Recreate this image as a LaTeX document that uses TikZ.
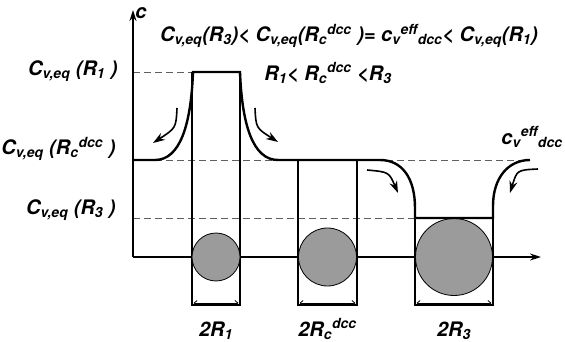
\documentclass[tikz,border=0pt]{standalone}
\usepackage{fontspec}
\setmainfont{TeX Gyre Heros}
\usetikzlibrary{arrows.meta}
\definecolor{dropgrey}{RGB}{155,155,155}
\definecolor{eqgrey}{RGB}{95,95,95}
\newcommand\sbs[1]{\textsubscript{#1}}
\newcommand\sps[1]{\textsuperscript{#1}}

\begin{document}
\begin{tikzpicture}[x=1pt,y=-1pt,
    font=\fontsize{20}{24}\selectfont\bfseries\itshape,
    profile/.style={line width=2.4pt},
    wall/.style={line width=1.6pt},
    eqline/.style={eqgrey,dash pattern=on 7pt off 4pt,line width=0.9pt},
    flow/.style={-{Stealth[length=12pt,width=8pt]},line width=1.6pt},
    dimarrow/.style={{Straight Barb[length=3pt,width=5pt]}-{Straight Barb[length=3pt,width=5pt]},line width=0.8pt}]
    \useasboundingbox (0,0) rectangle (565,342);

    % Equilibrium levels
    \draw[eqline] (133,72) -- (192,72);
    \draw[eqline] (133,160) -- (530,160);
    \draw[eqline] (133,218) -- (415,218);

    % Axes
    \draw[wall,-{Stealth[length=11pt,width=7pt]}] (133,257) -- (133,10);
    \draw[wall,-{Stealth[length=11pt,width=7pt]}] (133,257) -- (541,257);
    \node (caxis) at (141,13) {c};

    % Droplet boxes: left/right wall, top, centre, radius, label
    \foreach \l/\r/\t/\cx/\rad/\lab in {192/240/72/216/24/{2R\sbs{1}},
        298/357/160/327.5/29/{2R\sbs{c}\sps{dcc}},
        415/493/218/454/38.5/{2R\sbs{3}}}{
      \draw[wall] (\l,\t) -- (\l,305) -- (\r,305) -- (\r,\t);
      \fill[dropgrey] (\cx,257) circle (\rad);
      \draw[line width=0.8pt] (\cx,257) circle (\rad);
      \draw[dimarrow] (\l+1.5,303) -- (\r-1.5,303);
      \node[anchor=base,inner sep=0pt] at (\cx,336) {\lab};
    }

    % Concentration profile
    \draw[profile] (133,160) -- (155,160)
      .. controls (180,160) and (191,125) .. (193,72) -- (240,72)
      .. controls (242,125) and (253,160) .. (278,160) -- (380,160)
      .. controls (402,160) and (415,178) .. (415,208) -- (415,218)
      -- (493,218) -- (493,206)
      .. controls (493,178) and (508,160) .. (530,160);

    % Diffusion directions
    \draw[flow] (177,108) .. controls (176,128) .. (153,143);
    \draw[flow] (255,108) .. controls (256,128) .. (278,142);
    \draw[flow] (367,170) .. controls (389,172) .. (398,193);
    \draw[flow] (538,169) .. controls (517,170) .. (510,193);

    % Level labels
    \node[anchor=east] (lvlone) at (121,71) {C\sbs{v,eq} (R\sbs{1} )};
    \node[anchor=east] (lvlc) at (119,149) {C\sbs{v,eq} (R\sbs{c}\sps{dcc} )};
    \node[anchor=east] (lvlthree) at (119,210) {C\sbs{v,eq} (R\sbs{3} )};
    \node (effl) at (532,137) {c\sbs{v}\sps{eff}\sbs{dcc}};

    % Relations
    \node (ineq) at (349,36) {C\sbs{v,eq}(R\sbs{3})< C\sbs{v,eq}(R\sbs{c}\sps{dcc} )= c\sbs{v}\sps{eff}\sbs{dcc}< C\sbs{v,eq}(R\sbs{1})};
    \node (radii) at (328,73) {R\sbs{1}< R\sbs{c}\sps{dcc} <R\sbs{3}};
\end{tikzpicture}
\end{document}
